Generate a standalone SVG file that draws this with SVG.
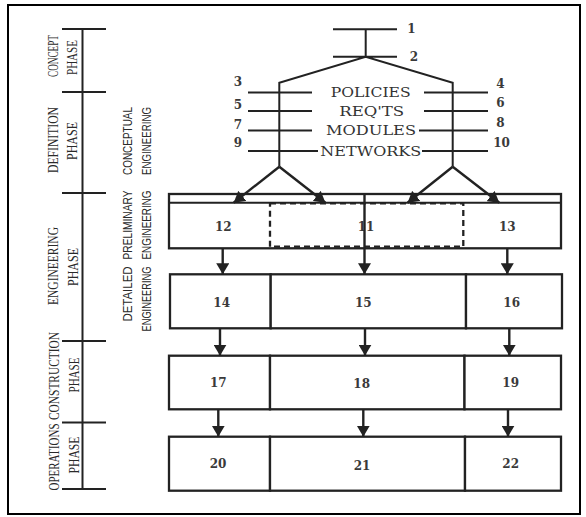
<svg xmlns="http://www.w3.org/2000/svg" width="586" height="517" viewBox="0 0 586 517">
<defs>
<style>
.ln{stroke:#222;stroke-width:2;fill:none}
.bx{stroke:#222;stroke-width:2.3;fill:#fff}
.dash{stroke:#222;stroke-width:2.3;fill:none;stroke-dasharray:6 4}
.ar{stroke:#222;stroke-width:2.4;fill:none;marker-end:url(#ah)}
.num{font-family:"DejaVu Serif","Liberation Serif",serif;font-size:12px;font-weight:bold;fill:#3a3a3a;text-anchor:middle;dominant-baseline:central}
.lbl{font-family:"DejaVu Serif","Liberation Serif",serif;font-size:12.5px;fill:#333;text-anchor:middle;dominant-baseline:central}
.ph{font-family:"Liberation Serif",serif;font-size:15.5px;fill:#2a2a2a;text-anchor:middle;dominant-baseline:central}
.eg{font-family:"Liberation Sans",sans-serif;font-size:13px;fill:#2a2a2a;text-anchor:middle;dominant-baseline:central}
</style>
<marker id="ah" markerUnits="userSpaceOnUse" markerWidth="13" markerHeight="13" refX="11" refY="6.5" orient="auto">
<path d="M0,0 L11,6.5 L0,13 z" fill="#222"/>
</marker>
</defs>
<rect x="0" y="0" width="586" height="517" fill="#fff"/>
<rect x="8" y="5" width="572" height="509" fill="none" stroke="#000" stroke-width="2"/>

<g id="timeline">
<path class="ln" d="M82.5,29 V489 M62,29 H106 M62,92 H106 M62,193 H106 M62,341 H106 M62,422.5 H106 M62,489 H106"/>
</g>

<g id="phase-concept">
<text class="ph" transform="translate(52,56) rotate(-90)" textLength="42" lengthAdjust="spacingAndGlyphs">CONCEPT</text>
<text class="ph" transform="translate(71,57.5) rotate(-90)" textLength="35" lengthAdjust="spacingAndGlyphs">PHASE</text>
</g>
<g id="phase-definition">
<text class="ph" transform="translate(52,140) rotate(-90)" textLength="66" lengthAdjust="spacingAndGlyphs">DEFINITION</text>
<text class="ph" transform="translate(71,141) rotate(-90)" textLength="38" lengthAdjust="spacingAndGlyphs">PHASE</text>
</g>
<g id="phase-engineering">
<text class="ph" transform="translate(52,266) rotate(-90)" textLength="78" lengthAdjust="spacingAndGlyphs">ENGINEERING</text>
<text class="ph" transform="translate(72,267) rotate(-90)" textLength="38" lengthAdjust="spacingAndGlyphs">PHASE</text>
</g>
<g id="phase-construction">
<text class="ph" transform="translate(53,376) rotate(-90)" textLength="88" lengthAdjust="spacingAndGlyphs">CONSTRUCTION</text>
<text class="ph" transform="translate(73,375) rotate(-90)" textLength="35" lengthAdjust="spacingAndGlyphs">PHASE</text>
</g>
<g id="phase-operations">
<text class="ph" transform="translate(53,457) rotate(-90)" textLength="67" lengthAdjust="spacingAndGlyphs">OPERATIONS</text>
<text class="ph" transform="translate(73,455) rotate(-90)" textLength="37" lengthAdjust="spacingAndGlyphs">PHASE</text>
</g>

<g id="eng-conceptual">
<text class="eg" transform="translate(127,141) rotate(-90)" textLength="68" lengthAdjust="spacingAndGlyphs">CONCEPTUAL</text>
<text class="eg" transform="translate(146.5,141) rotate(-90)" textLength="68" lengthAdjust="spacingAndGlyphs">ENGINEERING</text>
</g>
<g id="eng-preliminary">
<text class="eg" transform="translate(127,225) rotate(-90)" textLength="69" lengthAdjust="spacingAndGlyphs">PRELIMINARY</text>
<text class="eg" transform="translate(146.5,225) rotate(-90)" textLength="69" lengthAdjust="spacingAndGlyphs">ENGINEERING</text>
</g>
<g id="eng-detailed">
<text class="eg" transform="translate(127,294) rotate(-90)" textLength="55" lengthAdjust="spacingAndGlyphs">DETAILED</text>
<text class="eg" transform="translate(146.5,299) rotate(-90)" textLength="65" lengthAdjust="spacingAndGlyphs">ENGINEERING</text>
</g>

<g id="tree">
<path class="ln" d="M333,29.3 H397 M365.7,29.3 V56.7 M333,56.7 H397 M279.3,166.7 V82.7 L365.7,56.7 L452.7,82.7 V166.7"/>
<path class="ln" d="M248,92.5 H312 M248,111 H312 M248,130.5 H312 M248,151 H318 M424,92.5 H488 M424,111 H488 M419,130.5 H488 M422,151 H488"/>
</g>
<g id="n1"><text class="num" x="411.5" y="29">1</text></g>
<g id="n2"><text class="num" x="414" y="57">2</text></g>
<g id="n3"><text class="num" x="238" y="81.7">3</text></g>
<g id="n4"><text class="num" x="500.5" y="83.5">4</text></g>
<g id="n5"><text class="num" x="238" y="104.5">5</text></g>
<g id="n6"><text class="num" x="500.5" y="103.3">6</text></g>
<g id="n7"><text class="num" x="238" y="125">7</text></g>
<g id="n8"><text class="num" x="500.5" y="123.3">8</text></g>
<g id="n9"><text class="num" x="238" y="143.3">9</text></g>
<g id="n10"><text class="num" x="501.5" y="142.7">10</text></g>
<g id="policies"><text class="lbl" x="370.7" y="92.5" textLength="80" lengthAdjust="spacingAndGlyphs">POLICIES</text></g>
<g id="reqts"><text class="lbl" x="371.7" y="111" textLength="65" lengthAdjust="spacingAndGlyphs">REQ'TS</text></g>
<g id="modules"><text class="lbl" x="371" y="130.5" textLength="90" lengthAdjust="spacingAndGlyphs">MODULES</text></g>
<g id="networks"><text class="lbl" x="370.8" y="151" textLength="101" lengthAdjust="spacingAndGlyphs">NETWORKS</text></g>

<g id="prelim-row">
<rect class="bx" x="169" y="194" width="392" height="54.3"/>
<path class="ln" d="M169,202.7 H561"/>
</g>
<g id="n12"><text class="num" x="223.3" y="226.7">12</text></g>
<g id="n11">
<rect class="dash" x="270" y="203.3" width="193.3" height="43.4"/>
<text class="num" x="366" y="226.7">11</text>
</g>
<g id="n13"><text class="num" x="507.3" y="226.7">13</text></g>

<g id="n14"><rect class="bx" x="170" y="274.3" width="100.7" height="54"/><text class="num" x="221.7" y="302.7">14</text></g>
<g id="n15"><rect class="bx" x="270.7" y="274.3" width="195.3" height="54"/><text class="num" x="363.3" y="303">15</text></g>
<g id="n16"><rect class="bx" x="466" y="274.3" width="96" height="54"/><text class="num" x="511.7" y="302.7">16</text></g>

<g id="n17"><rect class="bx" x="169" y="355.7" width="101" height="53.6"/><text class="num" x="218.3" y="383.3">17</text></g>
<g id="n18"><rect class="bx" x="270" y="355.7" width="194.5" height="53.6"/><text class="num" x="361.7" y="384">18</text></g>
<g id="n19"><rect class="bx" x="464.5" y="355.7" width="96.5" height="53.6"/><text class="num" x="510.7" y="383.3">19</text></g>

<g id="n20"><rect class="bx" x="169" y="436.7" width="101" height="54"/><text class="num" x="218" y="464.3">20</text></g>
<g id="n21"><rect class="bx" x="270" y="436.7" width="195" height="54"/><text class="num" x="362" y="465.7">21</text></g>
<g id="n22"><rect class="bx" x="465" y="436.7" width="96" height="54"/><text class="num" x="510.7" y="464.3">22</text></g>

<g id="connectors">
<path class="ar" d="M279.3,166.7 L233.7,202.7"/>
<path class="ar" d="M279.3,166.7 L325.4,202.7"/>
<path class="ar" d="M452.7,166.7 L407.6,202.7"/>
<path class="ar" d="M452.7,166.7 L499.3,202.7"/>
<path class="ar" d="M364.5,194 V274.3"/>
<path class="ar" d="M222.7,248.3 V274.3"/>
<path class="ar" d="M507.3,248.3 V274.3"/>
<path class="ar" d="M220,328.3 V355.7"/>
<path class="ar" d="M365,328.3 V355.7"/>
<path class="ar" d="M509.3,328.3 V355.7"/>
<path class="ar" d="M218.3,409.3 V436.7"/>
<path class="ar" d="M363.3,409.3 V436.7"/>
<path class="ar" d="M508,409.3 V436.7"/>
</g>
</svg>
